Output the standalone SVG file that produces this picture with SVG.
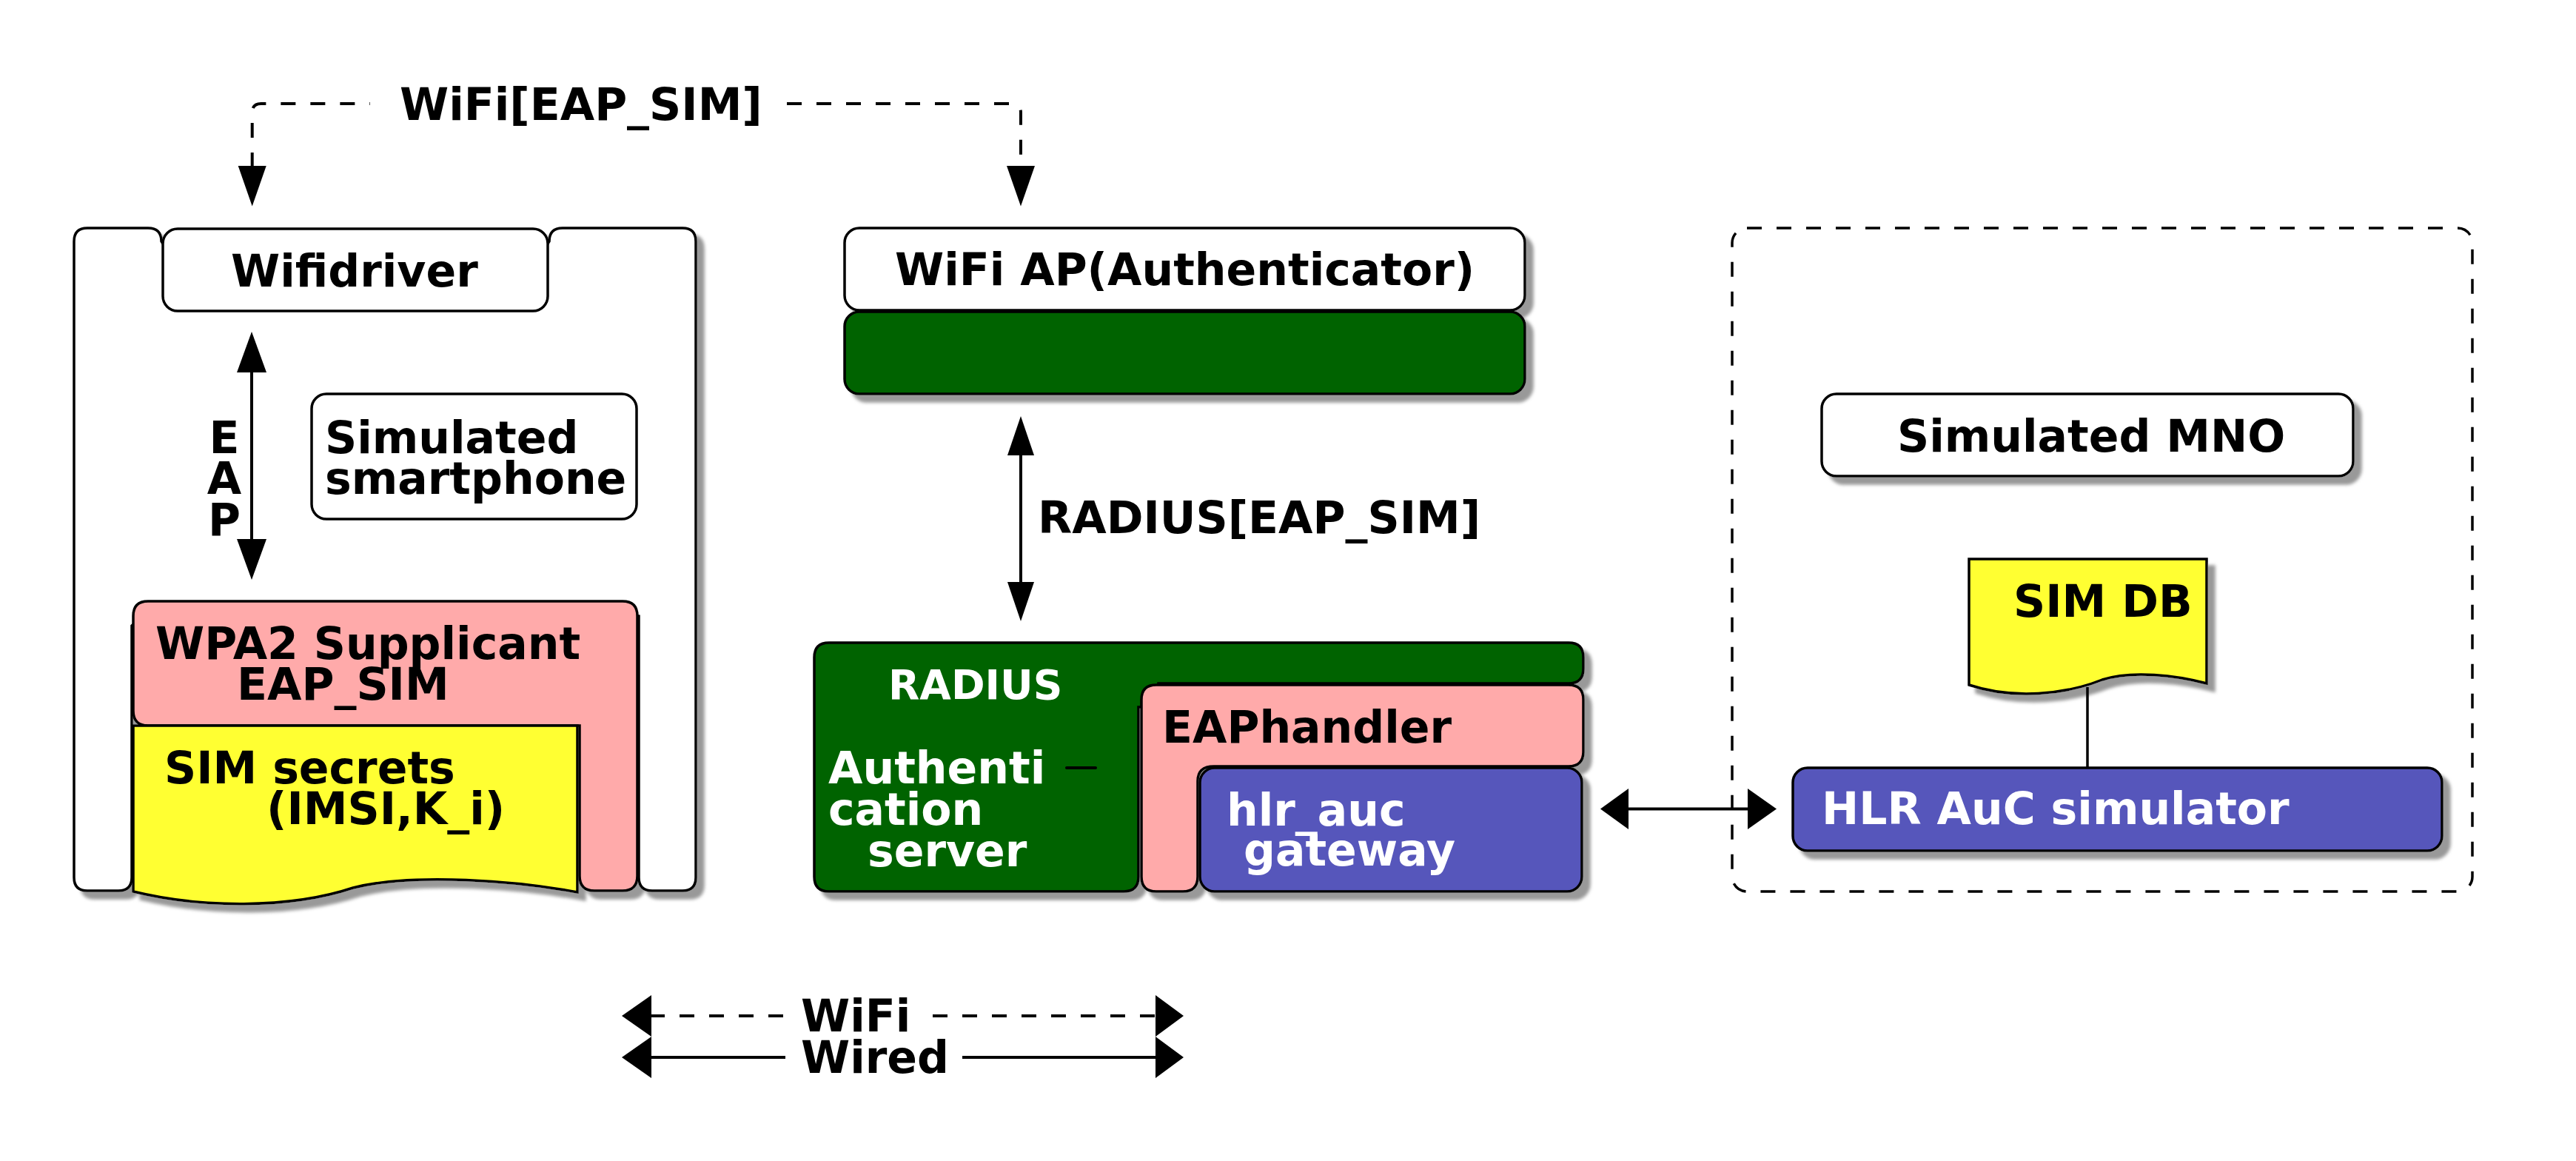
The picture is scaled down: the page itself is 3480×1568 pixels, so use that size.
<svg xmlns="http://www.w3.org/2000/svg" width="3480" height="1568" viewBox="0 0 3480 1568">
<defs>
<style>
text{font-family:"DejaVu Sans","Liberation Sans",sans-serif;font-weight:bold;font-size:60px;fill:#000}
.w{fill:#fff}
.box{stroke:#000;stroke-width:3.5}
.white{fill:#fff}
.green{fill:#006400}
.pink{fill:#ffaaaa}
.yellow{fill:#ffff33}
.blue{fill:#5656bb}
.ln{fill:none;stroke:#000;stroke-width:4}
.dash{stroke-dasharray:20 20}
.ah{fill:#000;stroke:none}
</style>
<filter id="sh" x="-10%" y="-10%" width="125%" height="125%">
<feGaussianBlur in="SourceAlpha" stdDeviation="2"/>
<feOffset dx="10" dy="10" result="o"/>
<feFlood flood-color="#999999"/>
<feComposite in2="o" operator="in" result="s"/>
<feMerge><feMergeNode in="s"/><feMergeNode in="SourceGraphic"/></feMerge>
</filter>
</defs>
<rect width="3480" height="1568" fill="#fff"/>

<!-- Simulated smartphone composite -->
<g id="smartphone" filter="url(#sh)">
<path class="box white" d="M118,308 H200 Q218,308 218,326 L230,345 H730 L742,326 Q742,308 760,308 H922 Q940,308 940,326 V1185 Q940,1203 922,1203 H881 Q863,1203 863,1185 V832 L850,830 H195 L178,845 V1185 Q178,1203 160,1203 H118 Q100,1203 100,1185 V326 Q100,308 118,308 Z"/>
<g id="wifidriver">
<rect class="box white" x="220" y="309" width="520" height="111" rx="20"/>
<text x="312" y="387">Wifidriver</text>
</g>
<g id="simulated-smartphone">
<rect class="box white" x="421" y="532" width="439" height="169" rx="20"/>
<text x="439" y="612">Simulated</text>
<text x="439" y="667">smartphone</text>
</g>
<g id="wpa2">
<path class="box pink" d="M200,812 H841 Q861,812 861,832 V1183 Q861,1203 841,1203 H803 Q783,1203 783,1183 V980 H200 Q180,980 180,960 V832 Q180,812 200,812 Z"/>
<text x="210" y="890">WPA2 Supplicant</text>
<text x="320" y="945">EAP_SIM</text>
</g>
<g id="sim-secrets">
<path class="box yellow" d="M180,980 H780 V1205 C700,1190 560,1178 477,1199 C390,1228 270,1226 180,1204 Z"/>
<text x="222" y="1058">SIM secrets</text>
<text x="360" y="1113">(IMSI,K_i)</text>
</g>
</g>

<!-- WiFi AP composite -->
<g id="wifi-ap" filter="url(#sh)">
<rect class="box white" x="1141" y="308" width="919" height="111" rx="20"/>
<rect class="box green" x="1141" y="421" width="919" height="111" rx="20"/>
<text x="1209" y="385">WiFi AP(Authenticator)</text>
</g>

<!-- RADIUS composite -->
<g id="radius" filter="url(#sh)">
<path class="box green" d="M1120,868 H2119 Q2139,868 2139,888 V903 Q2139,923 2119,923 H1565 V955 H1538 V1184 Q1538,1204 1518,1204 H1120 Q1100,1204 1100,1184 V888 Q1100,868 1120,868 Z"/>
<text class="w" x="1200" y="944" style="font-size:55px">RADIUS</text>
<text class="w" x="1119" y="1058">Authenti</text>
<text class="w" x="1119" y="1114">cation</text>
<text class="w" x="1172" y="1170">server</text>
<line x1="1441" y1="1037" x2="1480" y2="1037" stroke="#000" stroke-width="4" stroke-linecap="round"/>
<g id="eaphandler">
<path class="box pink" d="M1562,925 H2119 Q2139,925 2139,945 V1015 Q2139,1035 2119,1035 H1640 Q1618,1035 1618,1055 V1184 Q1618,1204 1598,1204 H1562 Q1542,1204 1542,1184 V945 Q1542,925 1562,925 Z"/>
<text x="1570" y="1003">EAPhandler</text>
</g>
<g id="hlr-auc-gateway">
<rect class="box blue" x="1621" y="1037" width="516" height="167" rx="20"/>
<text class="w" x="1657" y="1115">hlr_auc</text>
<text class="w" x="1680" y="1169">gateway</text>
</g>
</g>

<!-- Simulated MNO -->
<g id="mno-group">
<rect x="2340" y="308" width="1000" height="896" rx="20" fill="none" stroke="#000" stroke-width="3.5" stroke-dasharray="20 20"/>
</g>
<g id="simulated-mno" filter="url(#sh)">
<rect class="box white" x="2461" y="532" width="718" height="111" rx="20"/>
<text x="2563" y="610">Simulated MNO</text>
</g>
<g id="sim-db" filter="url(#sh)">
<path class="box yellow" d="M2660,755 H2981 V923 C2940,912 2880,905 2840,918 C2790,938 2720,945 2660,925 Z"/>
<text x="2720" y="833">SIM DB</text>
</g>
<g id="hlr-auc-simulator" filter="url(#sh)">
<rect class="box blue" x="2422" y="1037" width="877" height="112" rx="20"/>
<text class="w" x="2461" y="1113">HLR AuC simulator</text>
</g>

<!-- Connectors -->
<g id="connectors">
<path class="ln dash" d="M340.7,226 V152 Q340.7,140 352.7,140 H500"/>
<path class="ln dash" d="M1063,140 H1367 Q1379,140 1379,152 V226"/>
<polygon class="ah" points="321.7,224 359.7,224 340.7,278.5"/>
<polygon class="ah" points="1360,224 1398,224 1379,278.5"/>
<text x="540" y="162">WiFi[EAP_SIM]</text>

<line class="ln" x1="340" y1="500" x2="340" y2="731"/>
<polygon class="ah" points="320,503 360,503 340,448"/>
<polygon class="ah" points="320,728 360,728 340,783"/>
<text x="303" y="612" text-anchor="middle">E</text>
<text x="303" y="667" text-anchor="middle">A</text>
<text x="303" y="723" text-anchor="middle">P</text>

<line class="ln" x1="1379" y1="612" x2="1379" y2="789"/>
<polygon class="ah" points="1361,615 1397,615 1379,562"/>
<polygon class="ah" points="1361,786 1397,786 1379,839"/>
<text x="1402" y="720">RADIUS[EAP_SIM]</text>

<line class="ln" x1="2197" y1="1092.5" x2="2364" y2="1092.5"/>
<polygon class="ah" points="2200,1065 2200,1120 2162,1092.5"/>
<polygon class="ah" points="2361,1065 2361,1120 2400,1092.5"/>

<line x1="2820" y1="928" x2="2820" y2="1037" stroke="#000" stroke-width="3.5"/>
</g>

<!-- Legend -->
<g id="legend">
<path class="ln dash" d="M878,1372 H1062 M1260,1372 H1563"/>
<polygon class="ah" points="880,1344 880,1400 840,1372"/>
<polygon class="ah" points="1561,1344 1561,1400 1599,1372"/>
<text x="1082" y="1393">WiFi</text>
<path class="ln" d="M878,1428 H1061 M1300,1428 H1563"/>
<polygon class="ah" points="880,1400 880,1456 840,1428"/>
<polygon class="ah" points="1561,1400 1561,1456 1599,1428"/>
<text x="1082" y="1449">Wired</text>
</g>
</svg>
